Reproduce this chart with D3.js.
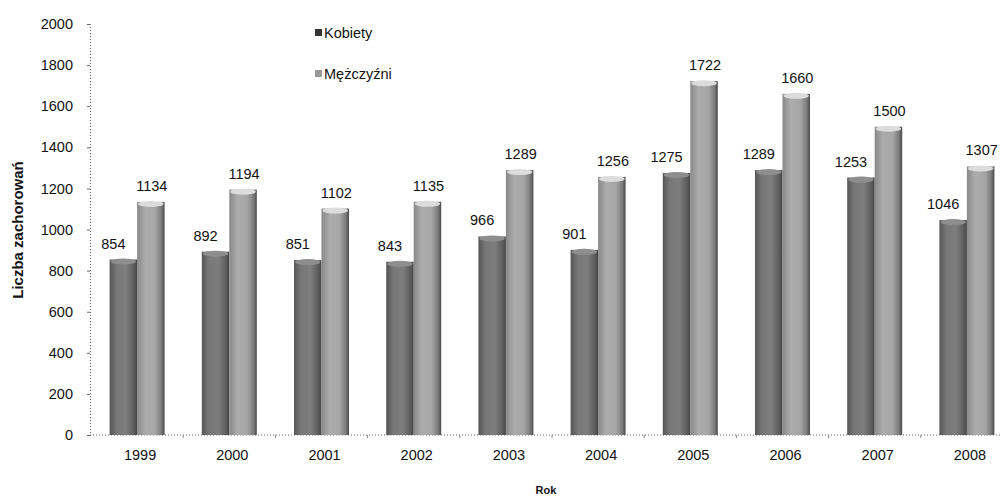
<!DOCTYPE html>
<html>
<head>
<meta charset="utf-8">
<script src="https://cdn.jsdelivr.net/npm/d3@7"></script>
<style>
  body { margin: 0; background: #fff; }
  text { font-family: "Liberation Sans", Arial, sans-serif; fill: #111; }
</style>
</head>
<body>
<div id="chart"></div>
<script>
// data
const years = ["1999", "2000", "2001", "2002", "2003", "2004", "2005", "2006", "2007", "2008"];
const kobiety = [854, 892, 851, 843, 966, 901, 1275, 1289, 1253, 1046];
const mezczyzni = [1134, 1194, 1102, 1135, 1289, 1256, 1722, 1660, 1500, 1307];
const seriesNames = ["Kobiety", "Mężczyźni"];
const yTicks = [0, 200, 400, 600, 800, 1000, 1200, 1400, 1600, 1800, 2000];

const width = 1001;
const height = 500;

const svg = d3.select("#chart")
  .append("svg")
  .attr("width", width)
  .attr("height", height);

// gradients to fake the cylinder look
const defs = svg.append("defs");
function cylGrad(id, stops) {
  const g = defs.append("linearGradient").attr("id", id)
    .attr("x1", "0%").attr("x2", "100%").attr("y1", "0%").attr("y2", "0%");
  stops.forEach(s => g.append("stop").attr("offset", s[0]).attr("stop-color", s[1]));
}
cylGrad("gK", [["0%", "#555"], ["25%", "#777"], ["60%", "#7e7e7e"], ["90%", "#5a5a5a"], ["100%", "#404040"]]);
cylGrad("gM", [["0%", "#888"], ["30%", "#acacac"], ["65%", "#a6a6a6"], ["88%", "#7c7c7c"], ["100%", "#4a4a4a"]]);

// scales
const y = d3.scaleLinear().domain([0, 2000]).range([435, 24]);
const x = d3.scaleBand().domain(years).range([91, 1013]).paddingInner(0).paddingOuter(0);
const xs = d3.scaleBand().domain(seriesNames).range([-27.5, 27.5]);

// axes (dotted)
const yAxis = d3.axisLeft(y).tickValues(yTicks).tickFormat(d3.format("d")).tickSize(3).tickPadding(14);
const gy = svg.append("g").attr("transform", "translate(90,0)").call(yAxis);
gy.select(".domain").attr("stroke", "#666").attr("stroke-dasharray", "1,2");
gy.selectAll(".tick line").attr("stroke", "#666");
gy.selectAll(".tick text").attr("font-size", 14.5).attr("fill", "#111");

const xAxis = d3.axisBottom(x).tickSize(3).tickSizeOuter(0).tickPadding(12);
const gx = svg.append("g").attr("transform", "translate(0,435)").call(xAxis);
gx.select(".domain").attr("stroke", "#666").attr("stroke-dasharray", "1,2").attr("d", "M90,0H1001");
gx.selectAll(".tick line").attr("stroke", "#888").attr("transform", `translate(${x.bandwidth() / 2},0)`);
gx.selectAll(".tick text").attr("font-size", 14.5).attr("fill", "#111").attr("dx", 3);

// bars
const rows = years.map((yr, i) => ({ yr, vals: [kobiety[i], mezczyzni[i]] }));
const groups = svg.selectAll(".grp")
  .data(rows)
  .enter()
  .append("g")
  .attr("class", "grp")
  .attr("transform", d => `translate(${x(d.yr) + x.bandwidth() / 2},0)`);

const bw = xs.bandwidth();
seriesNames.forEach((s, si) => {
  groups.append("rect")
    .attr("x", xs(s))
    .attr("y", d => y(d.vals[si]))
    .attr("width", bw)
    .attr("height", d => 435 - y(d.vals[si]))
    .attr("fill", si === 0 ? "url(#gK)" : "url(#gM)");
  groups.append("ellipse")
    .attr("cx", xs(s) + bw / 2)
    .attr("cy", d => y(d.vals[si]) + 2)
    .attr("rx", bw / 2 - 1)
    .attr("ry", 3)
    .attr("fill", si === 0 ? "#8e8e8e" : "#dcdcdc");
  groups.append("text")
    .attr("x", xs(s) + bw / 2 + (si === 0 ? -10 : 1))
    .attr("y", d => y(d.vals[si]) - 11)
    .attr("text-anchor", "middle")
    .attr("font-size", 14.5)
    .text(d => d.vals[si]);
});

// legend
const legend = svg.append("g").attr("transform", "translate(318,33)");
seriesNames.forEach((s, i) => {
  const lg = legend.append("g").attr("transform", `translate(0,${i * 41})`);
  lg.append("rect").attr("x", -3).attr("y", -4).attr("width", 7).attr("height", 7)
    .attr("fill", i === 0 ? "#333" : "#999");
  lg.append("text").attr("x", 6).attr("y", 5).attr("font-size", 14.5).text(s);
});

// axis titles
svg.append("text")
  .attr("transform", "translate(23,230) rotate(-90)")
  .attr("text-anchor", "middle")
  .attr("font-size", 15)
  .attr("font-weight", "bold")
  .text("Liczba zachorowań");

svg.append("text")
  .attr("x", 546)
  .attr("y", 494)
  .attr("text-anchor", "middle")
  .attr("font-size", 11)
  .attr("font-weight", "bold")
  .text("Rok");
</script>
</body>
</html>
